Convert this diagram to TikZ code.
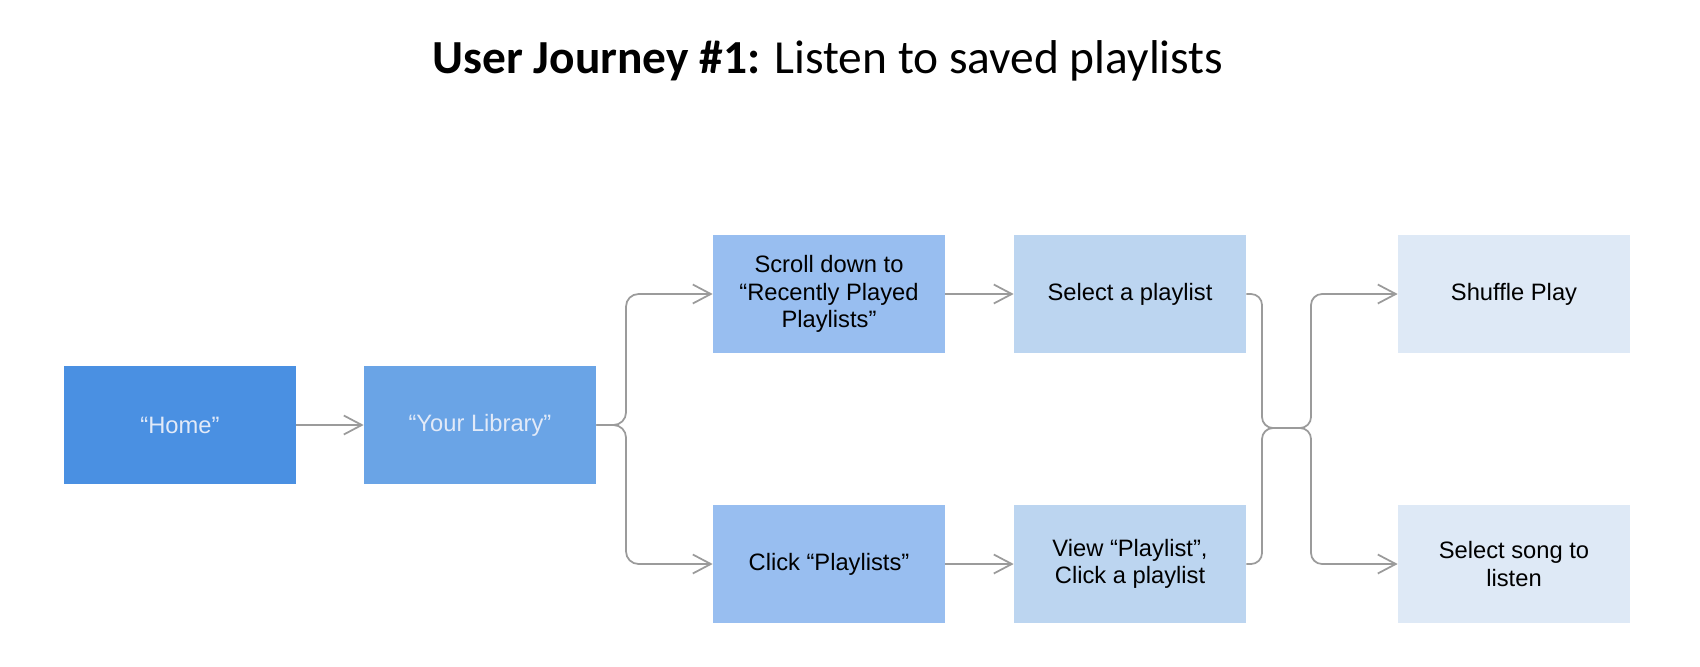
\documentclass[tikz,border=0pt]{standalone}
\usepackage{fontspec}
\setmainfont{Liberation Sans}
\newfontfamily\titlefont{Carlito}
\usetikzlibrary{arrows.meta}
\definecolor{cA}{HTML}{4A90E2}
\definecolor{cB}{HTML}{6AA4E6}
\definecolor{cC}{HTML}{98BEF0}
\definecolor{cD}{HTML}{BCD5F0}
\definecolor{cE}{HTML}{DEE9F6}
\definecolor{lnc}{HTML}{9B9B9B}
\definecolor{lighttxt}{HTML}{E2EAF8}
\tikzset{
  box/.style={rectangle, minimum width=4.64cm, minimum height=2.36cm, inner sep=0pt,
    align=center, font=\fontsize{13.5}{15.5}\selectfont},
  conn/.style={draw=lnc, line width=1pt, -{Straight Barb[length=3.6mm,width=3.8mm]}},
  plain/.style={draw=lnc, line width=1pt}
}
\begin{document}
\begin{tikzpicture}[x=0.02cm,y=-0.02cm]
\useasboundingbox (0,0) rectangle (1700,666);
\node[anchor=base] (title) at (828,73) {\titlefont\fontsize{27}{32}\selectfont\textbf{User Journey \#1:} Listen to saved playlists};
\node[box, fill=cA, text=lighttxt] (home) at (180,425) {“Home”};
\node[box, fill=cB, text=lighttxt] (lib) at (480,425) {“Your Library”};
\node[box, fill=cC] (scroll) at (829,294) {Scroll down to\\“Recently Played\\Playlists”};
\node[box, fill=cC] (click) at (829,564) {Click “Playlists”};
\node[box, fill=cD] (sel) at (1130,294) {Select a playlist};
\node[box, fill=cD] (view) at (1130,564) {View “Playlist”,\\Click a playlist};
\node[box, fill=cE] (shuf) at (1514,294) {Shuffle Play};
\node[box, fill=cE] (song) at (1514,564) {Select song to\\listen};
\coordinate (bL) at (626,425);
\coordinate (jL) at (1262,428);
\coordinate (jR) at (1311,428);
\draw[conn] (home) -- (lib);
\draw[conn, rounded corners=0.25cm] (lib.east) -- (bL) |- (scroll.west);
\draw[conn, rounded corners=0.25cm] (lib.east) -- (bL) |- (click.west);
\draw[conn] (scroll) -- (sel);
\draw[conn] (click) -- (view);
\draw[conn, rounded corners=0.22cm] (sel.east) -| (jL) -- (jR) |- (shuf.west);
\draw[conn, rounded corners=0.22cm] (view.east) -| (jL) -- (jR) |- (song.west);
\end{tikzpicture}
\end{document}
